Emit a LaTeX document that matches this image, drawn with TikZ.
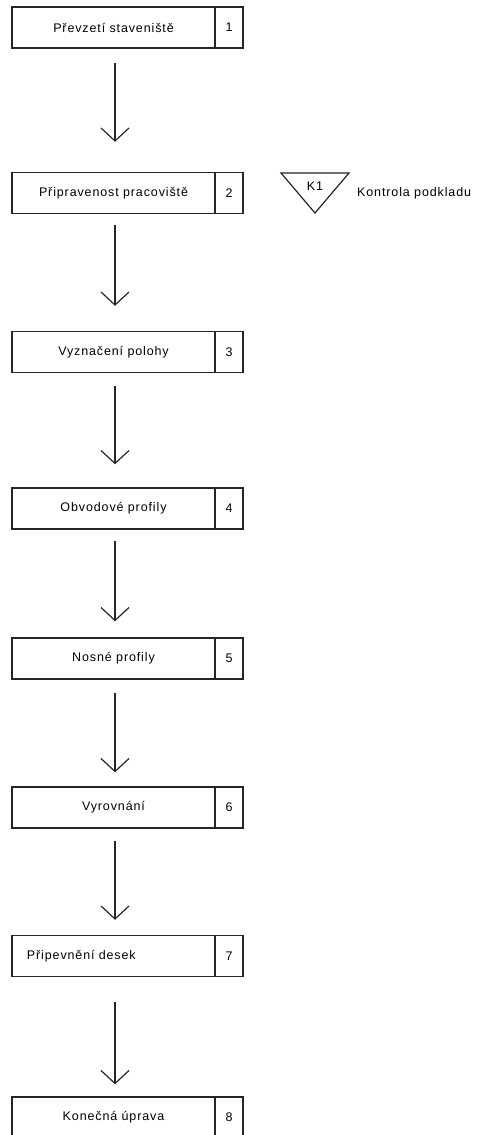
\documentclass[tikz,border=0pt]{standalone}
\usepackage{fontspec}
\setmainfont{Liberation Sans}[LetterSpace=7]
\usetikzlibrary{arrows.meta}

\begin{document}
\begin{tikzpicture}[x=1pt,y=-1pt,
  stepbox/.style={draw=black!85, line width=1.4pt, minimum width=203pt, minimum height=41pt, inner sep=0pt, font=\fontsize{12.5}{14}\selectfont},
  numbox/.style={draw=black!85, line width=1.4pt, minimum width=28pt, minimum height=41pt, inner sep=0pt, font=\fontsize{12.5}{14}\selectfont},
  flow/.style={draw=black!85, line width=1.2pt, -{Straight Barb[length=13pt,width=28pt]}},
  txt/.style={font=\fontsize{12.5}{14}\selectfont, inner sep=0pt}]
\clip (0,0) rectangle (479,1135);
% kroky
\node [stepbox] (p1) at (113.5,27.5) {Převzetí staveniště};
\node [numbox] (n1) at (229,27.5) {1};
\node [stepbox] (p2) at (113.5,193) {Připravenost pracoviště};
\node [numbox] (n2) at (229,193) {2};
\node [stepbox] (p3) at (113.5,352) {Vyznačení polohy};
\node [numbox] (n3) at (229,352) {3};
\node [stepbox] (p4) at (113.5,508.5) {Obvodové profily};
\node [numbox] (n4) at (229,508.5) {4};
\node [stepbox] (p5) at (113.5,658.5) {Nosné profily};
\node [numbox] (n5) at (229,658.5) {5};
\node [stepbox] (p6) at (113.5,807.5) {Vyrovnání};
\node [numbox] (n6) at (229,807.5) {6};
\node [stepbox, inner xsep=15pt, text width=173pt, align=left] (p7) at (113.5,956) {Připevnění desek};
\node [numbox] (n7) at (229,956) {7};
\node [stepbox] (p8) at (113.5,1117.5) {Konečná úprava};
\node [numbox] (n8) at (229,1117.5) {8};
% sipky
\foreach \i/\j/\a/\b in {1/2/14/30, 2/3/11/25, 3/4/13/23, 4/5/11/16, 5/6/13/14, 6/7/12/15, 7/8/25/12}
  \draw [flow, shorten <=\a pt, shorten >=\b pt] ([xshift=1.5pt]p\i.south) -- ([xshift=1.5pt]p\j.north);
% kontrola
\draw [draw=black!85, line width=1.2pt] (281,173) -- (349,173) -- (315,213) -- cycle;
\node [txt] (k1) at (315,186) {K1};
\node [txt, anchor=west] (kp) at (357,193) {Kontrola podkladu};
\end{tikzpicture}
\end{document}
